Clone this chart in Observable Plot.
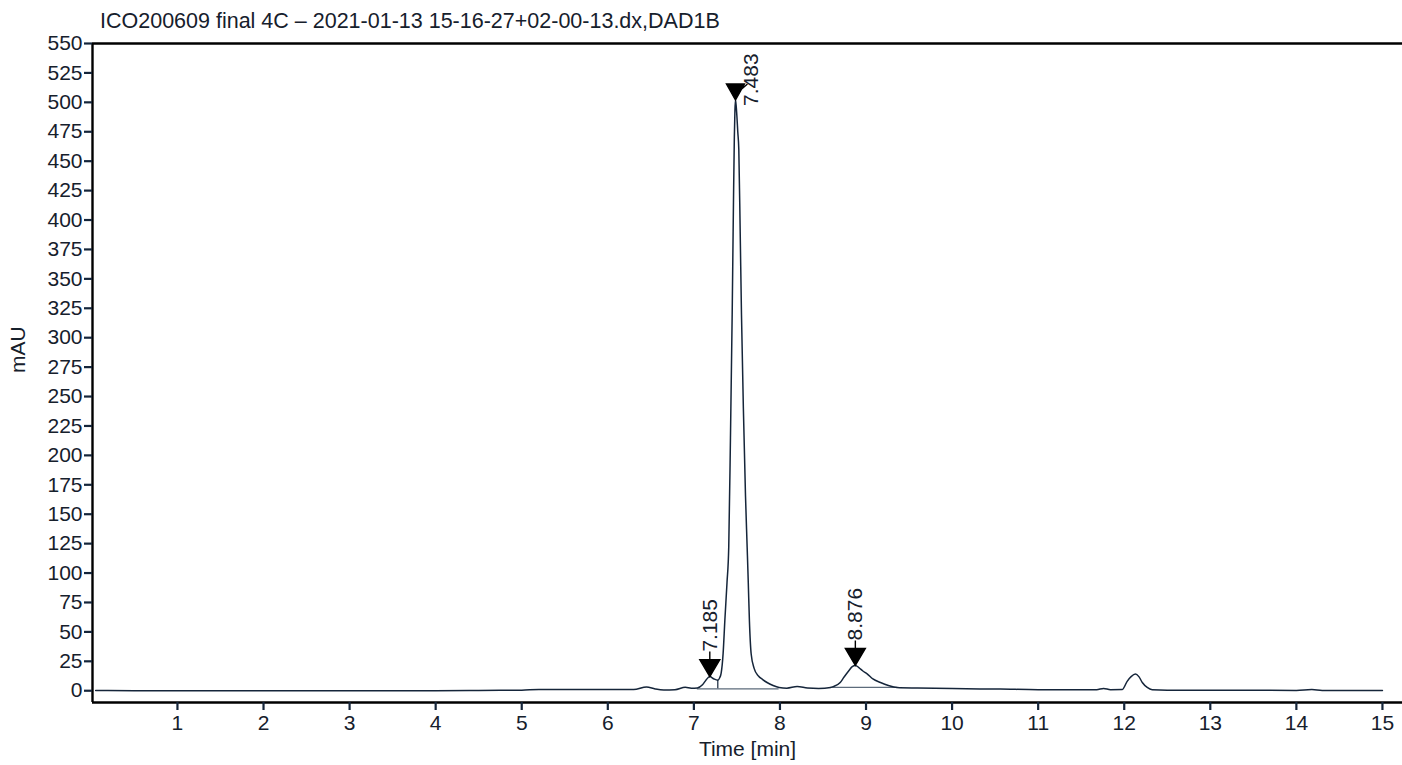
<!DOCTYPE html>
<html>
<head>
<meta charset="utf-8">
<script src="https://cdn.jsdelivr.net/npm/d3@7"></script>
<script src="https://cdn.jsdelivr.net/npm/@observablehq/plot@0.6"></script>
<style>
  html, body { margin: 0; padding: 0; background: #ffffff; }
  #chart { width: 1402px; height: 765px; }
</style>
</head>
<body>
<div id="chart"></div>
<script>
// ---- Data ----
const chartTitle = "ICO200609 final 4C – 2021-01-13 15-16-27+02-00-13.dx,DAD1B";
const xLabel = "Time [min]";
const yLabel = "mAU";

const timeMin = [
  0.05, 0.5, 1.0, 1.5, 2.0, 2.5, 3.0, 3.5, 4.0, 4.5, 5.0, 5.2, 5.6, 6.0, 6.3,
  6.45, 6.55, 6.65, 6.78, 6.9, 6.97, 7.04, 7.1, 7.14, 7.185, 7.23, 7.278,
  7.30, 7.317, 7.34, 7.36, 7.385, 7.405, 7.425, 7.445, 7.46, 7.47, 7.477, 7.483,
  7.49, 7.50, 7.51, 7.522, 7.538, 7.553, 7.575, 7.60, 7.619, 7.632, 7.645, 7.666,
  7.70, 7.75, 7.80, 7.85, 7.92, 7.99, 8.08, 8.2, 8.32, 8.45, 8.59,
  8.62, 8.70, 8.742, 8.80, 8.84, 8.876, 8.92, 8.96, 9.013, 9.08, 9.168, 9.26, 9.36,
  9.6, 10.0, 10.56, 11.0, 11.5, 11.68, 11.76, 11.84, 11.976, 12.034, 12.08, 12.13,
  12.17, 12.21, 12.267, 12.325, 12.5, 13.0, 13.5, 14.0, 14.18, 14.3, 14.6, 15.0
];
const signalMAU = [
  0.3, 0, 0, 0, 0, 0, 0, 0, 0, 0.2, 0.5, 1.1, 1.0, 1.1, 1.1,
  3.2, 1.5, 0.6, 0.8, 2.9, 2.2, 2.4, 5, 9, 12, 10.2, 9,
  11, 15, 32, 60, 92, 122, 215, 320, 415, 470, 493, 502,
  498, 488, 475, 460, 390, 320, 240, 165, 122, 92, 60, 31,
  19, 12.5, 9.5, 7, 4.5, 2.8, 2.2, 3.6, 2.4, 2.0, 2.8,
  3.5, 7, 11.3, 17, 20.5, 21.5, 19.5, 17, 14.4, 10, 7, 4.5, 2.8,
  2.3, 1.8, 1.4, 0.9, 0.8, 0.9, 1.9, 0.9, 1.0, 8, 12, 14.2,
  12, 7, 2.8, 0.9, 0.5, 0.5, 0.4, 0.3, 1.1, 0.3, 0.3, 0.3
];

// Integrated peaks (retention time, apex height, label)
const peakTimes = [7.185, 7.483, 8.876];
const peakHeights = [12, 502, 21.5];
const peakLabels = ["7.185", "7.483", "8.876"];

// Integration baselines and drop line
const baseStart = [7.04, 8.59];
const baseEnd = [7.99, 9.37];
const baseLevel = [1.6, 2.8];
const dropTimes = [7.278];
const dropTop = [9];
const dropBottom = [1.6];

// Axes
const xTicks = [1, 2, 3, 4, 5, 6, 7, 8, 9, 10, 11, 12, 13, 14, 15];
const yTicks = d3.range(0, 551, 25);
const xDomain = [0.013, 15.233];
const yDomain = [-10, 550];

// ---- Build ----
const trace = timeMin.map((t, i) => ({t, v: signalMAU[i]}));
const peaks = peakTimes.map((t, i) => ({t, h: peakHeights[i], label: peakLabels[i]}));
const bases = baseStart.map((s, i) => ({s, e: baseEnd[i], v: baseLevel[i]}));
const drops = dropTimes.map((t, i) => ({t, top: dropTop[i], bottom: dropBottom[i]}));

const topPeak = d => d.h > yDomain[1] * 0.8;  // label would not fit above, put it beside

const ink = "#15253a";
const textInk = "#16202c";
const font = "'Liberation Sans', Arial, 'DejaVu Sans', sans-serif";

const markerAbove = {
  draw(ctx) {
    ctx.moveTo(0, 0); ctx.lineTo(-10, -17); ctx.lineTo(10, -17); ctx.closePath();
    ctx.moveTo(0, -17); ctx.lineTo(0, -25);
  }
};
const markerSide = {
  draw(ctx) {
    ctx.moveTo(0, 0); ctx.lineTo(-9, -16); ctx.lineTo(9, -16); ctx.closePath();
    ctx.moveTo(4, -9); ctx.lineTo(12, -16);
  }
};

const plot = Plot.plot({
  width: 1402,
  height: 765,
  marginLeft: 92,
  marginRight: 0,
  marginTop: 43,
  marginBottom: 63,
  style: {fontFamily: font, background: "#ffffff", color: textInk},
  x: {domain: xDomain, label: null},
  y: {domain: yDomain, label: null},
  marks: [
    // integration baselines
    Plot.ruleY(bases, {x1: "s", x2: "e", y: "v", stroke: "#5d6b7b", strokeWidth: 1.2}),
    Plot.ruleX(drops, {x: "t", y1: "bottom", y2: "top", stroke: ink, strokeWidth: 1.2}),
    // signal
    Plot.line(trace, {x: "t", y: "v", stroke: ink, strokeWidth: 1.5, curve: "monotone-x"}),
    // frame
    Plot.ruleY([yDomain[1]], {stroke: "#000", strokeWidth: 2.6}),
    Plot.ruleY([yDomain[0]], {stroke: "#000", strokeWidth: 2.4}),
    Plot.ruleX([xDomain[0]], {stroke: "#000", strokeWidth: 2.4}),
    // axes
    Plot.axisY({ticks: yTicks, tickSize: 8, tickPadding: 2, stroke: ink, strokeWidth: 2.2,
      fill: textInk, fontSize: 21, label: null}),
    Plot.axisX({ticks: xTicks, tickSize: 8, tickPadding: 5, stroke: ink, strokeWidth: 2.2,
      fill: textInk, fontSize: 21, label: null}),
    // peak markers + labels
    Plot.dot(peaks.filter(d => !topPeak(d)), {x: "t", y: "h", r: 5, symbol: markerAbove,
      fill: "#000", stroke: "#000", strokeWidth: 1.4}),
    Plot.dot(peaks.filter(topPeak), {x: "t", y: "h", r: 5, symbol: markerSide,
      fill: "#000", stroke: "#000", strokeWidth: 1.4}),
    Plot.text(peaks.filter(d => !topPeak(d)), {x: "t", y: "h", text: "label", rotate: -90,
      textAnchor: "start", lineAnchor: "middle", dy: -25, fontSize: 21, fill: textInk}),
    Plot.text(peaks.filter(topPeak), {x: "t", y: "h", text: "label", rotate: -90,
      textAnchor: "start", lineAnchor: "middle", dx: 16, dy: 6, fontSize: 21, fill: textInk}),
    // titles
    Plot.text([chartTitle], {frameAnchor: "top-left", lineAnchor: "middle", dx: 7.5, dy: -22,
      textAnchor: "start", fontSize: 21.5, fill: textInk}),
    Plot.text([yLabel], {frameAnchor: "left", lineAnchor: "middle", dx: -74, rotate: -90,
      fontSize: 21, fill: textInk}),
    Plot.text([xLabel], {frameAnchor: "bottom", lineAnchor: "middle", dy: 47, fontSize: 21,
      fill: textInk})
  ]
});
document.getElementById("chart").appendChild(plot);
</script>
</body>
</html>
